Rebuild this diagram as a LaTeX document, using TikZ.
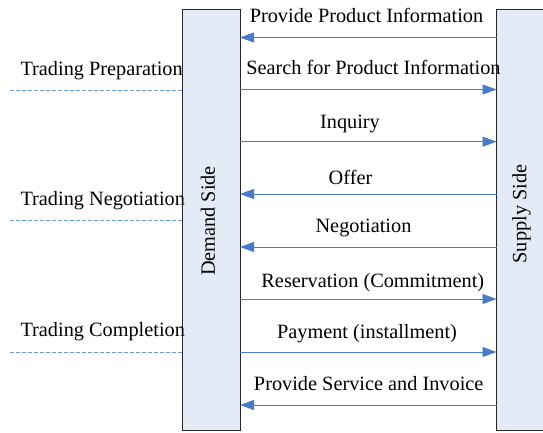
\documentclass[tikz,border=0pt]{standalone}
\usepackage{fontspec}
\setmainfont{Liberation Serif}
\usetikzlibrary{arrows.meta}
\definecolor{sidefill}{HTML}{E5EBF6}
\definecolor{flowblue}{HTML}{4A7BC8}
\definecolor{phaseblue}{HTML}{6C9BD8}
\begin{document}
\begin{tikzpicture}[x=1pt,y=-1pt,
  every node/.style={font=\fontsize{20.3}{24}\selectfont, inner sep=0pt, outer sep=0pt},
  sidebox/.style={draw=black!85, line width=0.8pt, fill=sidefill, rectangle},
  msg/.style={anchor=base},
  phase/.style={anchor=base west},
  flow/.style={draw=flowblue, line width=0.9pt, -{Triangle[length=14pt,width=10pt]}},
  phaseline/.style={draw=phaseblue, line width=0.8pt, dash pattern=on 4pt off 2pt}]
\useasboundingbox (0,0) rectangle (543,432);
\clip (0,0) rectangle (543,432);

% the two parties
\node[sidebox, minimum width=58pt, minimum height=421pt] (demand) at (211,219.5) {};
\node[sidebox, minimum width=58pt, minimum height=421pt] (supply) at (525.5,219.5) {};
\node[rotate=90] (demandlbl) at (208,221) {Demand Side};
\node[rotate=90] (supplylbl) at (521.5,214) {Supply Side};

% message rows
\foreach \name/\y in {r1/37.5, r2/89.5, r3/141.7, r4/194, r5/247, r6/299, r7/352, r8/405} {
  \coordinate (d\name) at (demand.east |- 0,\y);
  \coordinate (s\name) at (supply.west |- 0,\y);
}
\draw[flow] (sr1) -- (dr1);
\draw[flow] (dr2) -- (sr2);
\draw[flow] (dr3) -- (sr3);
\draw[flow] (sr4) -- (dr4);
\draw[flow] (sr5) -- (dr5);
\draw[flow] (dr6) -- (sr6);
\draw[flow] (dr7) -- (sr7);
\draw[flow] (sr8) -- (dr8);

\node[msg] (m1) at (366.5,22) {Provide Product Information};
\node[msg] (m2) at (373.5,74.5) {Search for Product Information};
\node[msg] (m3) at (350,128) {Inquiry};
\node[msg] (m4) at (350.5,184) {Offer};
\node[msg] (m5) at (363.5,232.3) {Negotiation};
\node[msg] (m6) at (372.8,287.3) {Reservation (Commitment)};
\node[msg] (m7) at (367,338.3) {Payment (installment)};
\node[msg] (m8) at (368.7,390) {Provide Service and Invoice};

% trading phases
\coordinate (p1) at (10,90);
\coordinate (p2) at (10,220);
\coordinate (p3) at (10,352);
\draw[phaseline] (p1) -- (demand.west |- p1);
\draw[phaseline] (p2) -- (demand.west |- p2);
\draw[phaseline] (p3) -- (demand.west |- p3);
\node[phase] (ph1) at (20.5,75) {Trading Preparation};
\node[phase] (ph2) at (20.5,205) {Trading Negotiation};
\node[phase] (ph3) at (20.5,336.5) {Trading Completion};
\end{tikzpicture}
\end{document}
